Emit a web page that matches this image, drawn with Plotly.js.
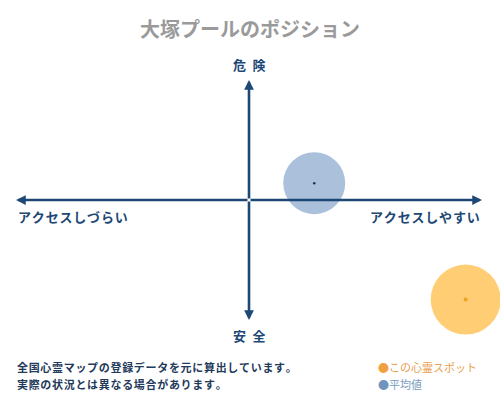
<!DOCTYPE html>
<html><head><meta charset="utf-8">
<script src="https://cdn.plot.ly/plotly-3.0.1.min.js"></script>
<style>html,body{margin:0;padding:0;background:#fff}#c{width:500px;height:400px}</style>
</head><body><div id="c"></div>
<script>
const titleText = "大塚プールのポジション";
const seriesNames = ["この心霊スポット", "平均値"];
const accessX = [9.3, 2.8];      // アクセスしやすさ (-10 .. 10)
const dangerY = [-8.3, 1.4];     // 危険度 (-10 .. 10)
const axisLabels = {top: "危\u2002険", bottom: "安\u2002全", left: "アクセスしづらい", right: "アクセスしやすい"};
const notes = ["全国心霊マップの登録データを元に算出しています。", "実際の状況とは異なる場合があります。"];

const F = "Noto Sans CJK JP";
const navy = "#1d4876";
const circleColors = ["rgba(255,196,90,0.85)", "rgba(150,178,210,0.8)"];
const dotColors = ["#f0a020", "#1d3550"];
const sizes = [70, 62];
const legendDot = ["#f0a040", "#6f95bd"];
const legendText = ["#e8a050", "#7a9cc0"];
const spaced = s => s.split("").join("\u200A");

const traces = [];
for (let i = 0; i < 2; i++) {
  traces.push({x:[accessX[i]], y:[dangerY[i]], type:"scatter", mode:"markers", cliponaxis:false,
    marker:{size:sizes[i], color:circleColors[i], line:{width:0}}, hoverinfo:"skip", showlegend:false});
  traces.push({x:[accessX[i]], y:[dangerY[i]], type:"scatter", mode:"markers", cliponaxis:false,
    marker:{size:i===0?4:2.5, color:dotColors[i]}, hoverinfo:"skip", showlegend:false});
}

const arrow = (x, y, ax, ay) => ({x, y, ax, ay, xref:"x", yref:"y", axref:"x", ayref:"y",
  text:"", showarrow:true, arrowhead:2, arrowsize:0.75, arrowwidth:2.6, arrowcolor:navy, standoff:0, startstandoff:0});

// paper coords are relative to plot area: x 16..482 px, y 80..320 px
const px = p => (p - 16) / 466;
const py = p => (320 - p) / 240;

const ann = [
  arrow(-10, 0, 0, 0), arrow(10, 0, 0, 0), arrow(0, 10, 0, 0), arrow(0, -10, 0, 0),
  {x:0, y:10, xref:"x", yref:"y", yshift:4, showarrow:false, text:"<b>"+axisLabels.top+"</b>", font:{family:F, size:13, color:navy}, yanchor:"bottom"},
  {x:0, y:-10, xref:"x", yref:"y", yshift:-4, showarrow:false, text:"<b>"+axisLabels.bottom+"</b>", font:{family:F, size:13, color:navy}, yanchor:"top"},
  {x:-10, y:0, xref:"x", yref:"y", yshift:-5, showarrow:false, xanchor:"left", yanchor:"top", text:"<b>"+spaced(axisLabels.left)+"</b>", font:{family:F, size:13, color:navy}},
  {x:10, y:0, xref:"x", yref:"y", yshift:-5, showarrow:false, xanchor:"right", yanchor:"top", text:"<b>"+spaced(axisLabels.right)+"</b>", font:{family:F, size:13, color:navy}}
];
notes.forEach((t, i) => ann.push({x:px(15), y:py(367 + 17*i), xref:"paper", yref:"paper", showarrow:false,
  xanchor:"left", yanchor:"middle", text:"<b>"+spaced(t)+"</b>", font:{family:F, size:11, color:"#1f3a5a"}}));
seriesNames.forEach((t, i) => ann.push({x:px(376), y:py(367 + 17*i), xref:"paper", yref:"paper", showarrow:false,
  xanchor:"left", yanchor:"middle",
  text:'<span style="color:'+legendDot[i]+'">●</span><span style="color:'+legendText[i]+'">'+t+'</span>', font:{family:F, size:11}}));

const layout = {
  width:500, height:400, margin:{l:16, r:18, t:80, b:80},
  paper_bgcolor:"#fff", plot_bgcolor:"#fff",
  title:{text:"<b>"+titleText+"</b>", x:0.5, xanchor:"center", y:1-30/400, yanchor:"middle", font:{family:F, size:20, color:"#9a9a9a"}},
  xaxis:{range:[-10,10], visible:false, fixedrange:true},
  yaxis:{range:[-10,10], visible:false, fixedrange:true},
  showlegend:false, annotations:ann
};
Plotly.newPlot("c", traces, layout, {displayModeBar:false, staticPlot:true});
</script></body></html>
